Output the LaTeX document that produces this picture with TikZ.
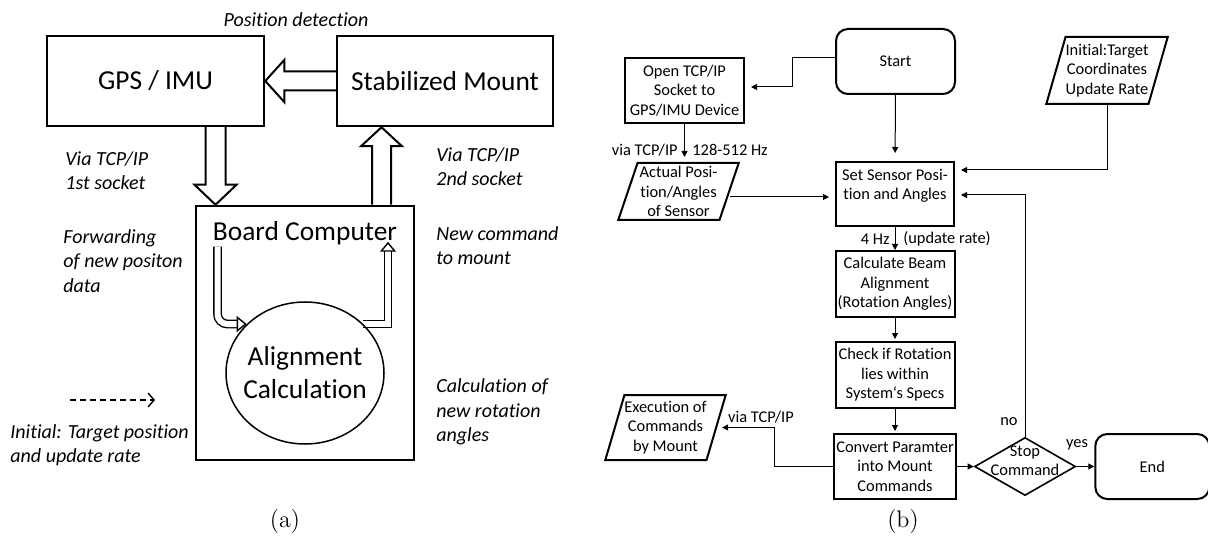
\documentclass[tikz,border=0pt]{standalone}
\usepackage{fontspec}
\newfontfamily\carlito[Ligatures=NoCommon]{Carlito}
\usetikzlibrary{calc,positioning,shapes.geometric,arrows.meta,backgrounds}
\newcommand{\bigfont}{\carlito\fontsize{13.7}{16.5}\selectfont}
\newcommand{\flowfont}{\carlito\fontsize{8.2}{9.7}\selectfont}
\tikzset{
  blk/.style={
    draw=black,
    line width=1.25pt,
    inner sep=0pt,
    font=\bigfont,
    align=center
  },
  blockarrow/.style={draw=black, line width=1pt, line join=miter},
  hollow/.style={double, double distance=3pt, line width=0.7pt, -{Triangle[open,length=5pt,width=8pt]}},
  note/.style={font=\carlito\itshape\fontsize{10}{12.25}\selectfont, align=left, inner sep=0pt, anchor=west},
  proc/.style={draw=black, line width=1pt, minimum width=59.5pt, minimum height=33pt, inner sep=1pt, font=\flowfont, align=center},
  term/.style={proc, rounded corners=6pt, minimum height=32.5pt},
  io/.style={trapezium, trapezium left angle=70, trapezium right angle=110, trapezium stretches=true,
    draw=black, line width=1pt, inner sep=0pt, minimum width=60.5pt, font=\flowfont, align=center},
  decide/.style={diamond, draw=black, line width=0.8pt, inner sep=0pt, minimum width=50.5pt, minimum height=29pt},
  flow/.style={line width=0.5pt, -{Triangle[length=3pt,width=3pt]}},
  lbl/.style={font=\flowfont, inner sep=0pt},
  subcap/.style={font=\fontsize{12}{14}\selectfont, inner sep=0pt},
}

\begin{document}
\begin{tikzpicture}[x=0.5pt, y=-0.5pt]
  \useasboundingbox (0,0) rectangle (1208,539);
  \begin{scope}[local bounding box=PanA]
    \node[note, anchor=center] (posdet) at (296,20) {Position detection};
    \node[blk, minimum width=108.5pt, minimum height=45pt] (gps) at (155.5,81) {GPS / IMU};
    \node[blk, minimum width=108pt, minimum height=45pt] (mount) at (445,81) {Stabilized Mount};
    \node[blk, minimum width=109pt, minimum height=127pt,
      label={[font=\bigfont, anchor=north, yshift=-5pt]north:Board Computer}] (bc) at (305,333) {};
    \node[ellipse, draw=black, line width=0.75pt, minimum width=79pt, minimum height=71pt, inner sep=0pt,
      label={[font=\bigfont, align=center]center:{Alignment\\Calculation}}] (al) at (305,373) {};
    \draw[blockarrow] ($(mount.west)+(0,-9.5)$) -- ($(gps.east)+(19,-9.5)$) -- ++(0,-11.5) -- (gps.east)
      -- ++(19,21) -- ++(0,-11.5) -- ($(mount.west)+(0,9.5)$);
    \draw[blockarrow] ($(gps.south)+(50,0)$) -- ($(bc.north)+(-99.5,-20)$) -- ++(-11,0) -- ($(bc.north)+(-89.5,0)$)
      -- ++(21,-20) -- ++(-11,0) -- ($(gps.south)+(70,0)$);
    \draw[blockarrow] ($(bc.north)+(67,0)$) -- ($(mount.south)+(-73,19)$) -- ++(-11,0) -- ($(mount.south)+(-63.5,0)$)
      -- ++(20.5,19) -- ++(-11,0) -- ($(bc.north)+(86,0)$);
    \scoped[on background layer]{
      \draw[hollow, rounded corners=5pt] ($(bc.north)+(-87.5,42)$) |- (al.140);
      \draw[hollow] (al.40) -| ($(bc.north)+(83,37)$);
    }
    \node[note] (via1) at (65,170.5) {Via TCP/IP\\1st socket};
    \node[note] (fwd) at (63,261) {Forwarding\\of new positon\\data};
    \node[note] (inittxt) at (10,445) {Initial: Target position\\and update rate};
    \node[note] (via2) at (436,166.5) {Via TCP/IP\\2nd socket};
    \node[note] (newcmd) at (436,245.5) {New command\\to mount};
    \node[note] (calcrot) at (436,412) {Calculation of\\new rotation\\angles};
    \coordinate (dashA) at (70,400);
    \coordinate (dashB) at (155,400);
    \draw[line width=0.7pt, dash pattern=on 3pt off 2pt, -{Straight Barb[length=3pt,width=7pt]}] (dashA) -- (dashB);
    \node[subcap] (capa) at (285,522) {(a)};
  \end{scope}
  \begin{scope}[local bounding box=PanB]
    \node[term] (start) at (895.5,61.5) {Start};
    \node[proc, minimum height=32.5pt] (open) at (684.5,90.5) {Open TCP/IP\\Socket to\\GPS/IMU Device};
    \node[io, minimum height=28.5pt] (actual) at (678.5,191.5) {Actual Posi-\\tion/Angles\\of Sensor};
    \node[io, minimum height=33.5pt, minimum width=61pt] (init) at (1107,70.5) {Initial:Target\\Coordinates\\Update Rate};
    \node[proc, minimum width=59pt, minimum height=32pt] (set) at (895,194) {Set Sensor Posi-\\tion and Angles\\~};
    \node[proc, below=11.5pt of set] (calc) {Calculate Beam\\Alignment\\(Rotation Angles)};
    \node[proc, below=11.5pt of calc] (check) {Check if Rotation\\lies within\\System‘s Specs};
    \node[proc, below=12pt of check, minimum height=32.5pt] (conv) {Convert Paramter\\into Mount\\Commands};
    \node[decide, right=8.5pt of conv,
      label={[lbl, align=center, yshift=2.75pt]center:{Stop\\Command}}] (stop) {};
    \node[term, right=9pt of stop, minimum width=57pt] (end) {End};
    \node[io, minimum height=32.5pt] (exec) at (665.5,427.5) {Execution of\\Commands\\by Mount};
    \draw[flow, shorten >=3pt] ($(start.west)+(0,-4)$) -- ++(-43,0) |- ($(open.east)+(0,-3.5)$);
    \draw[flow, shorten >=4pt] (start) -- (set);
    \draw[flow, shorten >=2.5pt] (open.south) -- (open.south |- actual.north);
    \draw[flow, shorten >=3pt] ($(actual.east)+(0,5.5)$) coordinate (av) -- (av -| set.west);
    \draw[flow, shorten >=3pt] (init.south) |- ($(set.east)+(0,-24)$);
    \draw[flow] (set) -- (calc);
    \draw[flow, shorten >=1pt] (calc) -- (check);
    \draw[flow, shorten >=1pt] (check) -- (conv);
    \draw[flow, shorten >=2.5pt] (conv.west) -- ++(-59,0) |- (exec.east);
    \draw[flow] (conv) -- (stop);
    \draw[flow] (stop) -- (end);
    \draw[flow, shorten >=3pt] (stop.north) |- ($(set.east)+(0,1)$);
    \node[lbl, anchor=east] (viaO) at (678,150) {via TCP/IP};
    \node[lbl, anchor=west] (hzO) at (692,150) {128-512 Hz};
    \node[lbl, anchor=east] (hzS) at (890,239) {4 Hz};
    \node[lbl, anchor=west] (upd) at (903,239) {(update rate)};
    \node[lbl] (viaE) at (761,417) {via TCP/IP};
    \node[lbl] (no) at (1009,422) {no};
    \node[lbl] (yes) at (1077,445) {yes};
    \node[subcap] (capb) at (903,522) {(b)};
  \end{scope}
\end{tikzpicture}
\end{document}
